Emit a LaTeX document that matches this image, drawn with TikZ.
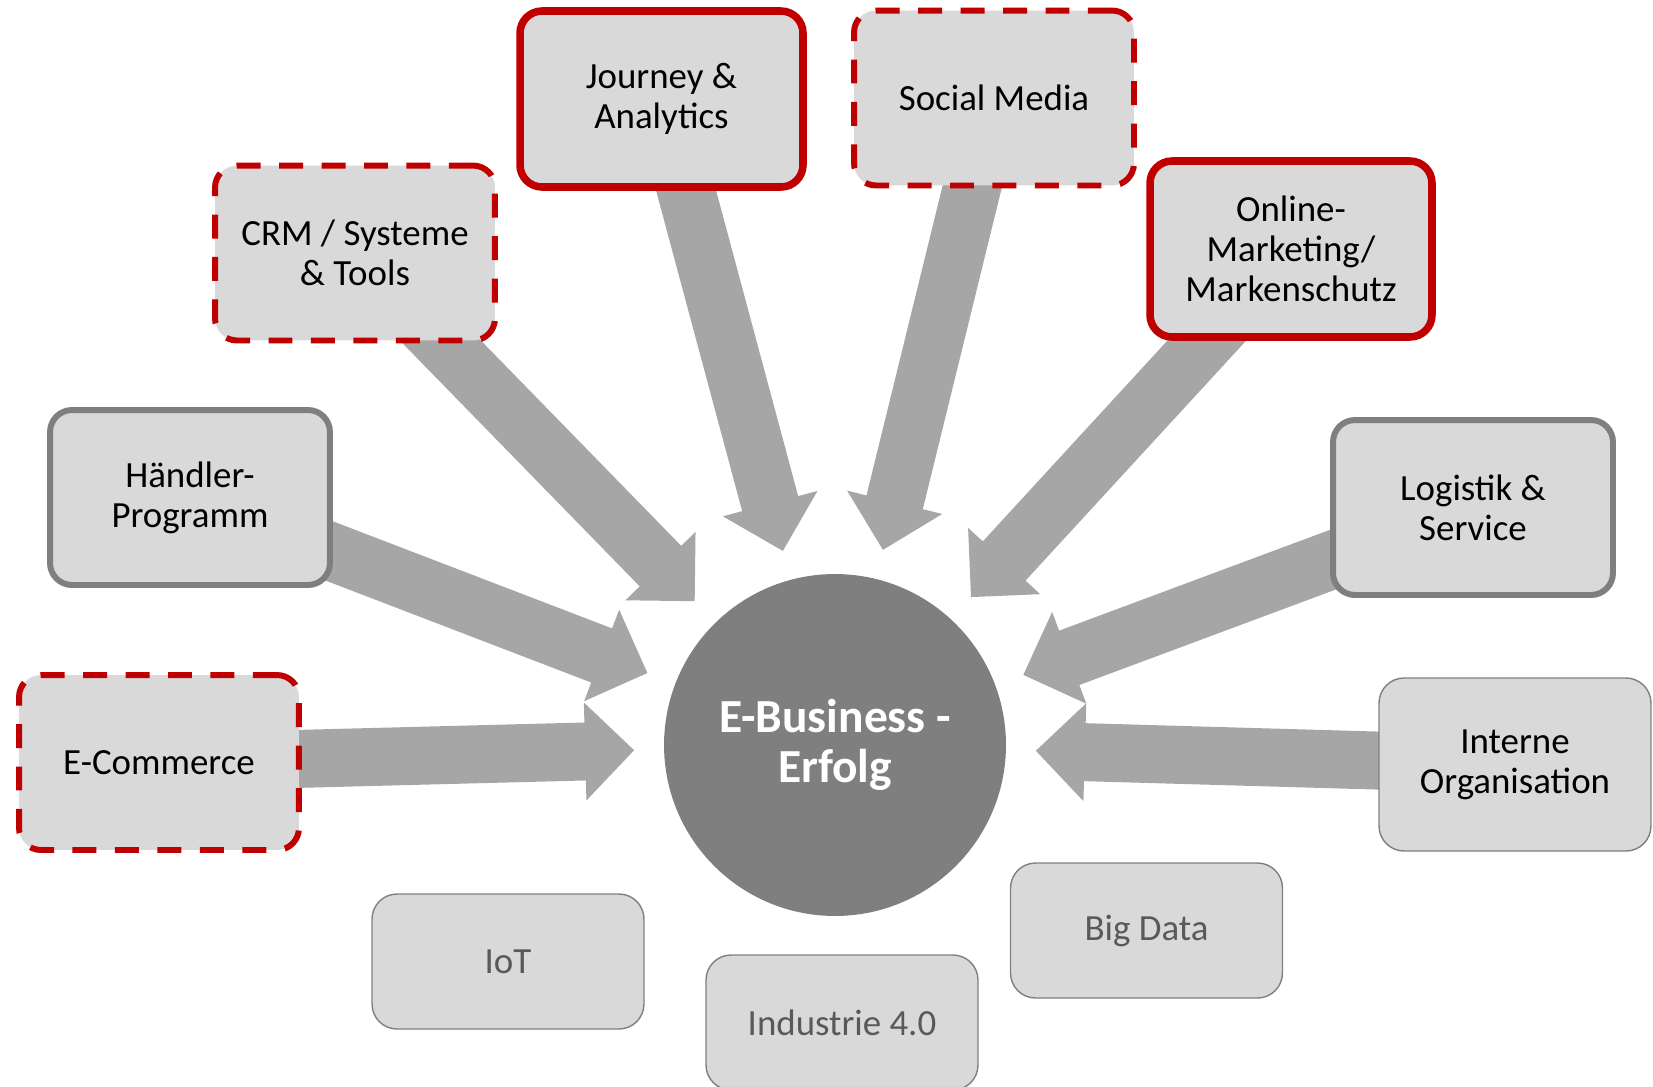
\documentclass[tikz,border=0pt]{standalone}
\usepackage{fontspec}
\setmainfont{Carlito}
\usetikzlibrary{calc}

\definecolor{boxfill}{HTML}{D9D9D9}
\definecolor{accent}{HTML}{C00000}
\definecolor{flowgray}{HTML}{A6A6A6}
\definecolor{hubgray}{HTML}{7F7F7F}
\definecolor{softtext}{HTML}{595959}

\pgfdeclarelayer{arrowlayer}
\pgfsetlayers{arrowlayer,main}

% geometry of the block arrows
\newcommand\flowShaft{0.58cm}% half shaft width
\newcommand\flowHead{0.98cm}% half head width
\newcommand\flowLen{0.98cm}% head length
\newcommand\flowTip{4.02cm}% distance of the tip from the hub centre

\tikzset{
  card/.style={rectangle, rounded corners=0.44cm, fill=boxfill, align=center,
    inner sep=0pt, minimum width=5.6cm, minimum height=3.5cm,
    font=\fontsize{21}{22.8}\selectfont, text=black},
  redframe/.style={card, draw=accent, line width=4.3pt},
  reddash/.style={card, draw=accent, line width=3.4pt, dash pattern=on 0.48cm off 0.37cm},
  grayframe/.style={card, draw=hubgray, line width=3.4pt},
  thinframe/.style={card, draw=hubgray, line width=0.8pt, rounded corners=0.5cm,
    minimum width=5.44cm, minimum height=2.7cm},
  hub/.style={circle, fill=hubgray, minimum size=6.84cm, inner sep=0pt, align=center,
    text=white, font=\bfseries\fontsize{27}{28.8}\selectfont},
  flow/.style={fill=flowgray},
}

\begin{document}
\begin{tikzpicture}[x=0.02cm, y=-0.02cm]
\useasboundingbox (0,0) rectangle (1653,1086);

% centre
\node[hub] (hub) at (835,745) {E-Business -\\Erfolg};

% surrounding topics
\node[redframe, minimum width=5.66cm, minimum height=3.52cm] (journey) at (661.5,99) {Journey \&\\Analytics};
\node[reddash] (social) at (994,98) {Social Media};
\node[reddash] (crm) at (355,253) {CRM / Systeme\\\& Tools};
\node[redframe, minimum width=5.64cm, minimum height=3.52cm] (online) at (1291,249) {Online-\\Marketing/\\Markenschutz};
\node[grayframe] (haendler) at (190,497.5) {Händler-\\Programm};
\node[grayframe] (logistik) at (1473,507.5) {Logistik \&\\Service};
\node[reddash] (ecom) at (159,762.5) {E-Commerce};
\node[thinframe, minimum height=3.46cm] (intern) at (1515,764.5) {Interne\\Organisation};

% topics without arrows
\node[thinframe, text=softtext] (iot) at (508,961.5) {IoT};
\node[thinframe, text=softtext] (industrie) at (842,1022.5) {Industrie 4.0};
\node[thinframe, text=softtext] (bigdata) at (1146.5,930.5) {Big Data};

% block arrows from each topic towards the hub
\begin{pgfonlayer}{arrowlayer}
\foreach \src in {ecom,haendler,crm,journey,social,online,logistik,intern}{
  \coordinate (tip-\src) at ($(hub)!\flowTip!(\src)$);
  \fill[flow]
    ($(\src)!\flowShaft!90:(tip-\src)$)
    -- ($(tip-\src)!\flowLen!(\src)!\flowShaft!-90:(\src)$)
    -- ($(tip-\src)!\flowLen!(\src)!\flowHead!-90:(\src)$)
    -- (tip-\src)
    -- ($(tip-\src)!\flowLen!(\src)!\flowHead!90:(\src)$)
    -- ($(tip-\src)!\flowLen!(\src)!\flowShaft!90:(\src)$)
    -- ($(\src)!\flowShaft!-90:(tip-\src)$)
    -- cycle;
}
\end{pgfonlayer}
\end{tikzpicture}
\end{document}
